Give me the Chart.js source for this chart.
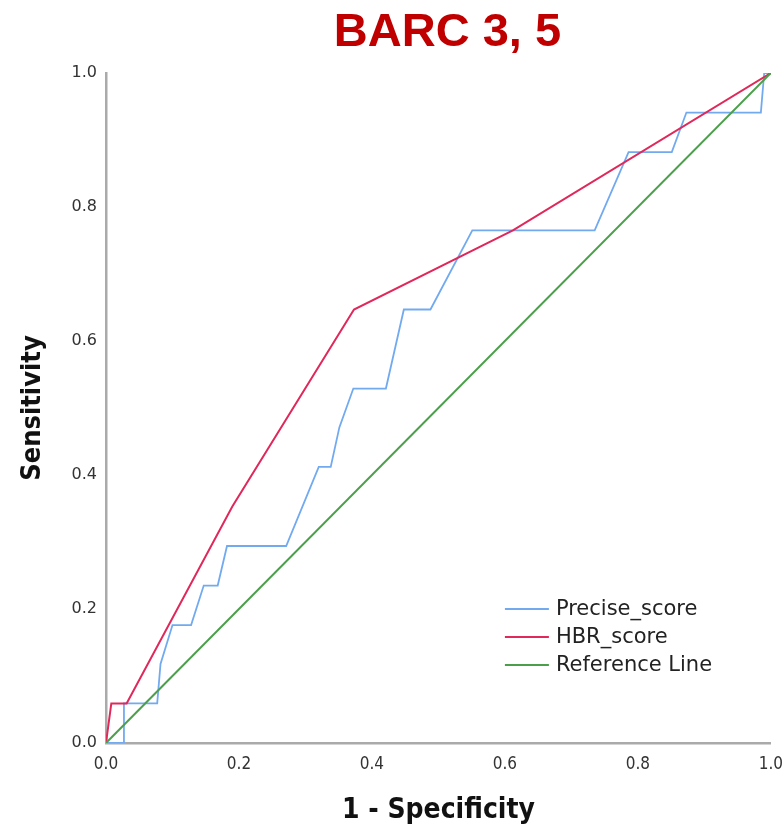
<!DOCTYPE html>
<html>
<head>
<meta charset="utf-8">
<title>BARC 3, 5</title>
<script src="https://cdn.jsdelivr.net/npm/chart.js@4/dist/chart.umd.min.js"></script>
<style>
  html, body { margin: 0; padding: 0; background: #fff; }
  #wrap { width: 784px; height: 829px; position: relative; }
</style>
</head>
<body>
<div id="wrap"><canvas id="roc"></canvas></div>
<script>
// ROC curves: 1 - specificity on x, sensitivity on y
const precise_fpr = [0, 0.027, 0.027, 0.077, 0.082, 0.100, 0.128, 0.147, 0.168, 0.182, 0.271, 0.320, 0.338, 0.351, 0.372, 0.421, 0.448, 0.488, 0.551, 0.735, 0.786, 0.851, 0.873, 0.985, 0.990, 1];
const precise_tpr = [0, 0,     0.059, 0.059, 0.118, 0.176, 0.176, 0.235, 0.235, 0.294, 0.294, 0.412, 0.412, 0.471, 0.529, 0.529, 0.647, 0.647, 0.765, 0.765, 0.882, 0.882, 0.941, 0.941, 1,     1];

const hbr_fpr = [0, 0.008, 0.031, 0.190, 0.373, 0.612, 1];
const hbr_tpr = [0, 0.059, 0.059, 0.353, 0.647, 0.765, 1];

const ref_fpr = [0, 1];
const ref_tpr = [0, 1];

const axisTicks = [0, 0.2, 0.4, 0.6, 0.8, 1.0];
const chartTitle = 'BARC 3, 5';

const toPoints = (xs, ys) => xs.map((x, i) => ({ x, y: ys[i] }));

// title drawn by hand so it can sit a little right of the plot centre
const plotTitle = {
  id: 'plotTitle',
  afterDraw(chart) {
    const { ctx, chartArea: a } = chart;
    ctx.save();
    ctx.font = 'bold 47px "Liberation Sans", Arial, sans-serif';
    ctx.fillStyle = '#c00000';
    ctx.textAlign = 'center';
    ctx.textBaseline = 'alphabetic';
    ctx.fillText(chartTitle, (a.left + a.right) / 2 + 9, 46);
    ctx.restore();
  }
};

// legend sits inside the plot, lower right
const insideLegend = {
  id: 'insideLegend',
  afterDraw(chart) {
    const { ctx, chartArea: a } = chart;
    const x0 = a.left + (a.right - a.left) * 0.600;
    const x1 = x0 + 44;
    const rows = [a.bottom - 134, a.bottom - 106, a.bottom - 78];
    ctx.save();
    ctx.font = '21px "DejaVu Sans", sans-serif';
    ctx.textBaseline = 'middle';
    chart.data.datasets.forEach((ds, i) => {
      ctx.strokeStyle = ds.borderColor;
      ctx.lineWidth = 2;
      ctx.beginPath();
      ctx.moveTo(x0, rows[i]);
      ctx.lineTo(x1, rows[i]);
      ctx.stroke();
      ctx.fillStyle = '#222';
      ctx.fillText(ds.label, x1 + 7, rows[i] + 1);
    });
    ctx.restore();
  }
};

const lineDefaults = { showLine: true, pointRadius: 0, pointHoverRadius: 0, fill: false, tension: 0 };
const narrowBold = size => ({ family: '"Liberation Sans Narrow", "DejaVu Sans Condensed", sans-serif', size, weight: 'bold', lineHeight: 1.2 });

new Chart(document.getElementById('roc'), {
  type: 'scatter',
  data: {
    datasets: [
      { ...lineDefaults, label: 'Precise_score', data: toPoints(precise_fpr, precise_tpr), borderColor: '#72aaf0', borderWidth: 1.8, order: 3 },
      { ...lineDefaults, label: 'HBR_score', data: toPoints(hbr_fpr, hbr_tpr), borderColor: '#e1285a', borderWidth: 2, order: 2 },
      { ...lineDefaults, label: 'Reference Line', data: toPoints(ref_fpr, ref_tpr), borderColor: '#4b9f4b', borderWidth: 2, order: 1 },
    ]
  },
  options: {
    responsive: true,
    maintainAspectRatio: false,
    animation: false,
    layout: { padding: { left: 0, right: 13, top: 73, bottom: 0 } },
    plugins: {
      legend: { display: false },
      tooltip: { enabled: false },
      title: { display: false }
    },
    scales: {
      x: {
        type: 'linear',
        min: 0, max: 1,
        afterFit(scale) { scale.height = 86; },
        afterBuildTicks(scale) { scale.ticks = axisTicks.map(v => ({ value: v })); },
        // tick marks are not drawn, the length only spaces the labels
        grid: { display: false, drawTicks: true, tickLength: 10 },
        border: { display: true, color: '#aaaaaa', width: 2.5 },
        ticks: {
          padding: 1,
          color: '#333',
          font: { family: '"Liberation Sans Narrow", "DejaVu Sans Condensed", sans-serif', size: 17 },
          callback: v => v.toFixed(1)
        },
        title: {
          display: true,
          text: '1 - Specificity',
          color: '#111',
          font: narrowBold(28),
          padding: { top: 0, bottom: 1 }
        }
      },
      y: {
        type: 'linear',
        min: 0, max: 1,
        afterFit(scale) { scale.width = 106; },
        afterBuildTicks(scale) { scale.ticks = axisTicks.map(v => ({ value: v })); },
        grid: { display: false, drawTicks: false },
        border: { display: true, color: '#aaaaaa', width: 2.5 },
        ticks: {
          padding: 9,
          color: '#333',
          font: { family: '"DejaVu Sans", sans-serif', size: 16 },
          callback: v => v.toFixed(1)
        },
        title: {
          display: true,
          text: 'Sensitivity',
          color: '#111',
          font: narrowBold(27),
          padding: { top: 17, bottom: 0 }
        }
      }
    }
  },
  plugins: [plotTitle, insideLegend]
});
</script>
</body>
</html>
